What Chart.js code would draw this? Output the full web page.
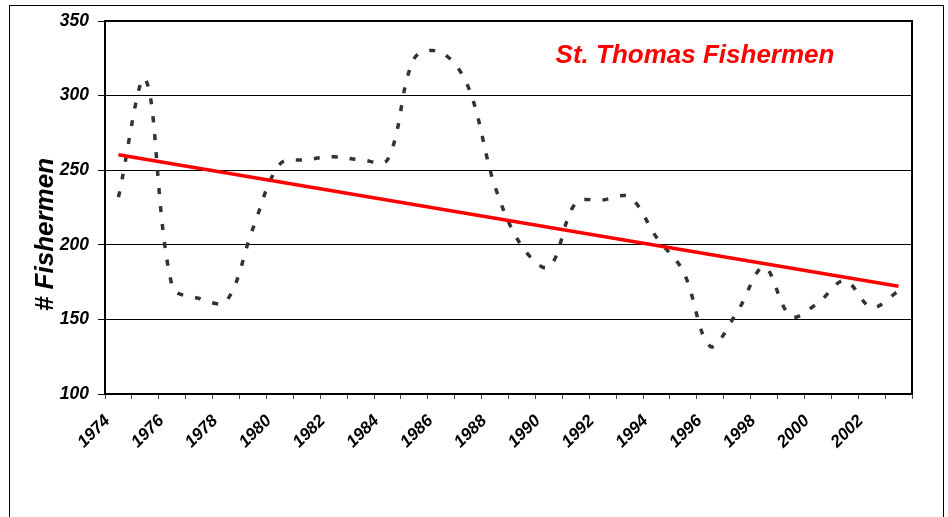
<!DOCTYPE html>
<html>
<head>
<meta charset="utf-8">
<script src="https://cdn.jsdelivr.net/npm/chart.js@4.4.1/dist/chart.umd.min.js"></script>
<style>
  html, body { margin: 0; padding: 0; background: #fff; }
  #wrap { position: relative; width: 948px; height: 517px; overflow: hidden; }
  #frame { position: absolute; left: 9px; top: 5px; width: 933px; height: 530px; border: 1px solid #000; }
  #myChart { position: absolute; left: 0; top: 0; }
</style>
</head>
<body>
<div id="wrap">
  <div id="frame"></div>
  <canvas id="myChart" width="948" height="517"></canvas>
</div>
<script>
// values
const years = [
  '1974', '1975', '1976', '1977', '1978', '1979', '1980', '1981', '1982', '1983',
  '1984', '1985', '1986', '1987', '1988', '1989', '1990', '1991', '1992', '1993',
  '1994', '1995', '1996', '1997', '1998', '1999', '2000', '2001', '2002', '2003',
];
const fishermen = [
  232, 311, 172, 164, 162, 211, 254, 257, 259, 257,
  257, 325, 329, 306, 239, 199, 185, 228, 230, 232,
  205, 182, 132, 155, 185, 152, 161, 176, 158, 169,
];
// linear trend, end points as drawn
const trendYears = ['1974', '2003'];
const trendValues = [260.3, 172.2];

const chartTitle = 'St. Thomas Fishermen';
const yTitle = '# Fishermen';
const fontFamily = '"Liberation Sans", Arial, Helvetica, sans-serif';

// plot frame plus the two texts Excel places freely
const decorations = {
  id: 'decorations',
  afterDraw(chart) {
    const { ctx, chartArea: a } = chart;
    ctx.save();
    ctx.strokeStyle = '#000';
    ctx.lineWidth = 2;
    ctx.strokeRect(a.left, a.top, a.right - a.left, a.bottom - a.top);

    ctx.fillStyle = '#ff0000';
    ctx.font = `italic bold 26px ${fontFamily}`;
    ctx.textAlign = 'center';
    ctx.textBaseline = 'alphabetic';
    ctx.fillText(chartTitle, a.left + 590, a.top + 42);

    ctx.fillStyle = '#000';
    ctx.translate(53, (a.top + a.bottom) / 2 + 27);
    ctx.rotate(-Math.PI / 2);
    ctx.fillText(yTitle, 0, 0);
    ctx.restore();
  },
};

const tickFont = { family: fontFamily, size: 17.5, weight: 'bold', style: 'italic' };

const chartRef = document.getElementById('myChart').getContext('2d');
// eslint-disable-next-line no-unused-vars
const chart = new Chart(chartRef, {
  type: 'line',
  data: {
    labels: years,
    datasets: [
      {
        label: 'Trend',
        data: trendYears.map((y, i) => ({ x: y, y: trendValues[i] })),
        borderColor: '#ff0000',
        borderWidth: 3.5,
        pointRadius: 0,
        tension: 0,
      },
      {
        label: 'Fishermen',
        data: fishermen,
        borderColor: '#333333',
        borderWidth: 3.5,
        borderDash: [6, 12],
        pointRadius: 0,
        tension: 0.35,
      },
    ],
  },
  options: {
    responsive: false,
    animation: false,
    devicePixelRatio: 1,
    layout: { padding: { left: 0, top: 21, right: 36, bottom: 0 } },
    plugins: {
      legend: { display: false },
      tooltip: { enabled: false },
    },
    scales: {
      x: {
        type: 'category',
        offset: true,
        afterFit: (scale) => { scale.height = 123; },
        border: { display: true, color: '#000', width: 2 },
        grid: {
          offset: true,
          drawOnChartArea: false,
          drawTicks: true,
          tickLength: 5,
          color: '#444',
        },
        ticks: {
          autoSkip: false,
          maxRotation: 45,
          minRotation: 45,
          labelOffset: -11,
          padding: 12,
          color: '#000',
          font: { ...tickFont, size: 17 },
          callback: (val, i) => (i % 2 === 0 ? years[i] : ''),
        },
      },
      y: {
        min: 100,
        max: 350,
        afterFit: (scale) => { scale.width = 105; },
        border: { display: true, color: '#000', width: 2 },
        grid: {
          color: '#000',
          lineWidth: 1,
          drawTicks: true,
          tickLength: 7,
        },
        ticks: {
          stepSize: 50,
          padding: 9,
          color: '#000',
          font: tickFont,
        },
      },
    },
  },
  plugins: [decorations],
});
</script>
</body>
</html>
